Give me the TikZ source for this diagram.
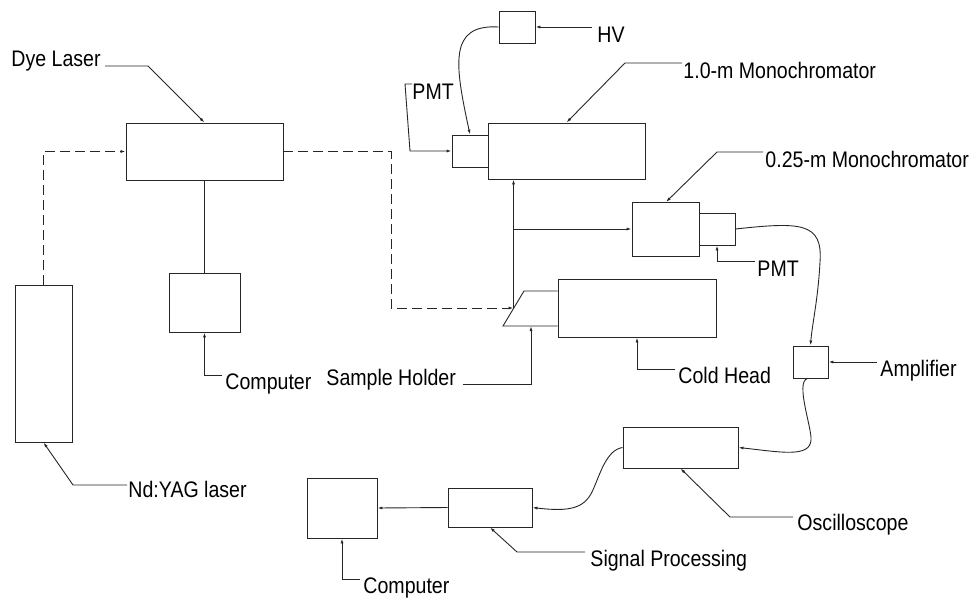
\documentclass[tikz,border=0pt]{standalone}
\usepackage{fontspec}
\setmainfont{Liberation Sans}[FakeStretch=0.87]
\usetikzlibrary{arrows.meta,calc}
\begin{document}
\begin{tikzpicture}[x=1pt,y=-1pt,line width=0.9pt,color=black!85,
  box/.style={draw,inner sep=0pt,fill=white},
  lbl/.style={anchor=base west,inner sep=0pt,text=black,font=\fontsize{22.5}{26}\selectfont},
  arr/.style={-{Latex[length=5pt,width=3pt]}},
  dsh/.style={dash pattern=on 10pt off 5pt}]
\useasboundingbox (0,0) rectangle (977,597);
% boxes
\node[box,minimum width=157pt,minimum height=57pt] (dye) at (204.5,151.5) {};
\node[box,minimum width=71pt,minimum height=59pt] (comp1) at (204.5,302.5) {};
\node[box,minimum width=57pt,minimum height=157pt] (yag) at (43.5,363.5) {};
\node[box,minimum width=36pt,minimum height=32pt] (hv) at (517,27) {};
\node[box,minimum width=157pt,minimum height=56pt] (mono1) at (566.5,151) {};
\node[box,minimum width=36pt,minimum height=32pt] (pmt1) at (470,151) {};
\node[box,minimum width=67pt,minimum height=54pt] (mono2) at (665.5,229) {};
\node[box,minimum width=36pt,minimum height=32pt] (pmt2) at (717,229) {};
\node[box,minimum width=35pt,minimum height=32pt] (amp) at (810.5,362) {};
\node[box,minimum width=158pt,minimum height=58pt] (cold) at (637,308) {};
\node[box,minimum width=115pt,minimum height=41pt] (osc) at (680.5,447.5) {};
\node[box,minimum width=84pt,minimum height=39pt] (sp) at (490,507.5) {};
\node[box,minimum width=70pt,minimum height=60pt] (comp2) at (342,508) {};
% sample holder
\coordinate (sh) at (513.5,308);
\draw (cold.west |- 0,291) -- (524,291) -- (503,326) -- (cold.west |- 0,326);
% labels
\node[lbl] (tdye) at (11,66) {Dye Laser};
\node[lbl] (tyag) at (128,497) {Nd:YAG laser};
\node[lbl] (tcomp1) at (225,389) {Computer};
\node[lbl] (thv) at (597,42) {HV};
\node[lbl] (tpmt1) at (412,99) {PMT};
\node[lbl] (tmono1) at (683,78) {1.0-m Monochromator};
\node[lbl] (tmono2) at (765,167) {0.25-m Monochromator};
\node[lbl] (tpmt2) at (757,276) {PMT};
\node[lbl] (tamp) at (880,376) {Amplifier};
\node[lbl] (tsh) at (326,385) {Sample Holder};
\node[lbl] (tcold) at (678,383) {Cold Head};
\node[lbl] (tosc) at (797,530) {Oscilloscope};
\node[lbl] (tsp) at (590,566) {Signal Processing};
\node[lbl] (tcomp2) at (363,593) {Computer};
% laser beam (dashed)
\draw[dsh,arr] (yag.north) -- (yag.north |- dye.west) -- (dye.west);
\draw[dsh,arr] (dye.east) -- (391,151.5) -- (391,308) -- (sh);
% solid connections
\draw (dye.south) -- (comp1.north);
\draw[arr] (sh) -- (sh |- mono1.south);
\coordinate (br) at (sh |- mono2.west);
\draw[arr] (br) -- (mono2.west);
\draw[arr] (hv.west) .. controls (448,24) and (455,65) .. (pmt1.north);
\draw[arr] (pmt2.east) .. controls (800,222) and (823,222) .. (820,262) .. controls (818,300) and (812,325) .. (amp.north);
\draw[arr] ([xshift=-3pt]amp.south) .. controls (795,382) and (812,428) .. (811,440) .. controls (810,458) and (780,452) .. (osc.east);
\draw[arr] (osc.west) .. controls (606,450) and (600,475) .. (592,492) .. controls (584,508) and (570,512) .. (sp.east);
\draw[arr] (sp.west) -- (comp2.east);
% leaders
\draw[arr] (105,66) -- (148,66) -- (dye.north);
\draw[arr] (127,485) -- (73,485) -- (yag.south);
\draw[arr] (222,375) -- (comp1.south |- 0,375) -- (comp1.south);
\draw[arr] (592,27) -- (hv.east);
\draw[arr] (412,84) -- (405,84) -- (410,151) -- (pmt1.west);
\draw[arr] (682,63) -- (625,63) -- (mono1.north);
\draw[arr] (763,152) -- (717,152) -- (666,202);
\draw[arr] (755,261) -- (pmt2.south |- 0,261) -- (pmt2.south);
\draw[arr] (877,362) -- (amp.east);
\draw[arr] (463,384) -- (531,384) -- (531,326);
\draw[arr] (675,369) -- (cold.south |- 0,369) -- (cold.south);
\draw[arr] (793,517) -- (730,517) -- (osc.south);
\draw[arr] (585,552) -- (517,552) -- (sp.south);
\draw[arr] (360,579) -- (comp2.south |- 0,579) -- (comp2.south);
\end{tikzpicture}
\end{document}
